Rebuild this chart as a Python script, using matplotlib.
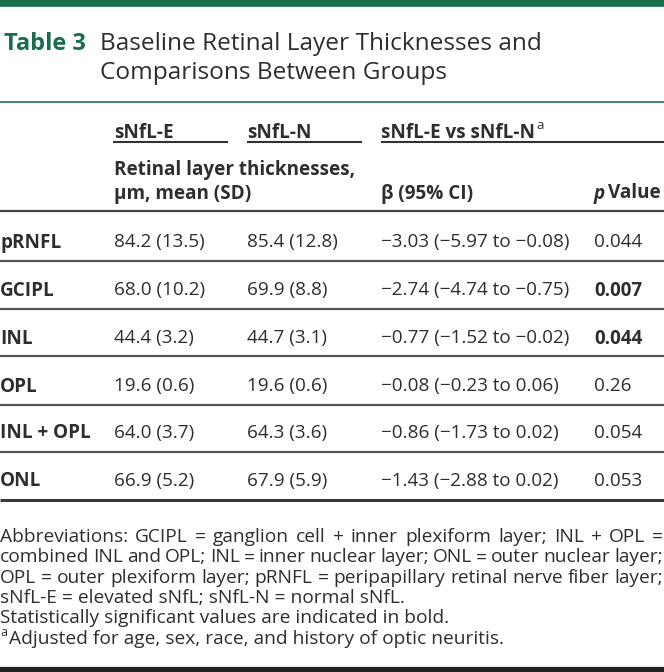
import matplotlib
matplotlib.use("Agg")
import matplotlib.pyplot as plt
from matplotlib.lines import Line2D

# ---------------- data ----------------
layers = ["pRNFL", "GCIPL", "INL", "OPL", "INL + OPL", "ONL"]
e_mean = [84.2, 68.0, 44.4, 19.6, 64.0, 66.9]
e_sd = [13.5, 10.2, 3.2, 0.6, 3.7, 5.2]
n_mean = [85.4, 69.9, 44.7, 19.6, 64.3, 67.9]
n_sd = [12.8, 8.8, 3.1, 0.6, 3.6, 5.9]
beta = [-3.03, -2.74, -0.77, -0.08, -0.86, -1.43]
ci_lo = [-5.97, -4.74, -1.52, -0.23, -1.73, -2.88]
ci_hi = [-0.08, -0.75, -0.02, 0.06, 0.02, 0.02]
p_values = ["0.044", "0.007", "0.044", "0.26", "0.054", "0.053"]
significant = [False, True, True, False, False, False]

title_label = "Table 3"
title_lines = ["Baseline Retinal Layer Thicknesses and", "Comparisons Between Groups"]
group_headers = ["sNfL-E", "sNfL-N", "sNfL-E vs sNfL-N"]
sub_header = ["Retinal layer thicknesses,", "\u03bcm, mean (SD)"]
beta_header = "\u03b2 (95% CI)"
footnote_justified = [
    "Abbreviations: GCIPL = ganglion cell + inner plexiform layer; INL + OPL =",
    "combined INL and OPL; INL = inner nuclear layer; ONL = outer nuclear layer;",
    "OPL = outer plexiform layer; pRNFL = peripapillary retinal nerve fiber layer;",
]
footnote_left = [
    "sNfL-E = elevated sNfL; sNfL-N = normal sNfL.",
    "Statistically significant values are indicated in bold.",
]
footnote_a = "Adjusted for age, sex, race, and history of optic neuritis."

# ---------------- setup ----------------
W, H = 664, 672
DPI = 100
FONT = "Open Sans"
plt.rcParams["font.family"] = [FONT, "DejaVu Sans"]
fig = plt.figure(figsize=(W / DPI, H / DPI), dpi=DPI)
fig.patch.set_facecolor("white")
renderer = fig.canvas.get_renderer()

GREEN = "#1a6e4b"
TEXT = "#2e2e2e"
BODY = 13.6


def fx(x):
    return x / W


def fy(y):
    return 1 - y / H


def txt(x, y, s, size=BODY, weight="normal", color=TEXT, style="normal", va="center_baseline", ha="left"):
    return fig.text(fx(x), fy(y), s, fontsize=size, fontweight=weight, color=color,
                    fontstyle=style, va=va, ha=ha)


def width(t):
    return t.get_window_extent(renderer).width


def hline(x0, x1, y, lw=1.2, color="#4a4a4a"):
    fig.add_artist(Line2D([fx(x0), fx(x1)], [fy(y), fy(y)], lw=lw, color=color,
                          transform=fig.transFigure, solid_capstyle="butt"))


def fmt(v, d=2):
    s = f"{abs(v):.{d}f}"
    return ("\u2212" + s) if v < 0 else s


# top bar
hline(0, W, 2.5, lw=5.5, color=GREEN)

# title
txt(4, 50, title_label, size=17, weight="bold", color=GREEN, va="baseline")
txt(100, 50, title_lines[0], size=17.6, color=TEXT, va="baseline")
txt(100, 79, title_lines[1], size=17.6, color=TEXT, va="baseline")
hline(0, W, 101.5, lw=1.3, color="#2f7a58")

# column positions
cx = [0, 114, 247, 381, 594]

# group headers
y_gh = 130
txt(cx[1], y_gh, group_headers[0], weight="bold")
txt(cx[2], y_gh, group_headers[1], weight="bold")
tg = txt(cx[3], y_gh, group_headers[2], weight="bold")
txt(cx[3] + width(tg) + 1, y_gh - 6, "a", size=9.5, weight="normal")
hline(113, 228, 141.5, lw=1.5, color="#333333")
hline(247, 362, 141.5, lw=1.5, color="#333333")
hline(381, W, 141.5, lw=1.5, color="#333333")

# sub headers
txt(cx[1], 168, sub_header[0], weight="bold")
txt(cx[1], 191, sub_header[1], weight="bold")
txt(cx[3], 191, beta_header, weight="bold")
tp = txt(cx[4], 191, "p", weight="bold", style="italic")
txt(cx[4] + width(tp) + 3, 191, "Value", weight="bold")
hline(0, W, 211.5, lw=1.6, color="#444444")

# rows
row_y = [240, 288, 336, 384, 431, 479]
line_y = [260.5, 308.5, 356.5, 404.5, 451.5, 499.5]
for i, lab in enumerate(layers):
    y = row_y[i]
    txt(cx[0], y, lab, weight="bold")
    txt(cx[1], y, f"{e_mean[i]:.1f} ({e_sd[i]:.1f})")
    txt(cx[2], y, f"{n_mean[i]:.1f} ({n_sd[i]:.1f})")
    txt(cx[3], y, f"{fmt(beta[i])} ({fmt(ci_lo[i])} to {fmt(ci_hi[i])})")
    txt(cx[4], y, p_values[i], weight="bold" if significant[i] else "normal")
    last = i == len(layers) - 1
    hline(0, W, line_y[i], lw=2.2 if last else 1.6, color="#3a3a3a" if last else "#555555")

# footnotes
FN = 13.8
fy0 = 535
fstep = 20.3
for k, line in enumerate(footnote_justified):
    y = fy0 + k * fstep
    words = line.split(" ")
    arts = [txt(0, y, w, size=FN) for w in words]
    ws = [width(a) for a in arts]
    gap = (W - 1 - sum(ws)) / (len(words) - 1)
    x = 0
    for a, w in zip(arts, ws):
        a.set_x(fx(x))
        x += w + gap
for k, line in enumerate(footnote_left):
    txt(0, fy0 + (3 + k) * fstep, line, size=FN)
ya = fy0 + 5 * fstep
txt(0, ya - 5, "a", size=9)
txt(9, ya, footnote_a, size=FN)

hline(0, W, 669.5, lw=4.5, color="#222222")

fig.savefig("out.png", dpi=DPI, facecolor="white")
